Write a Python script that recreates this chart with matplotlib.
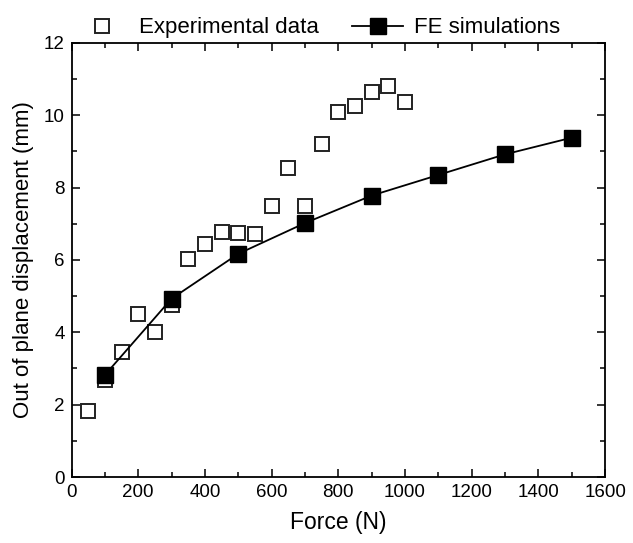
import matplotlib
matplotlib.use("Agg")
import matplotlib.pyplot as plt

plt.rcParams['font.family'] = ['Liberation Sans', 'DejaVu Sans']

# experimental measurements
expForce = [50, 100, 150, 200, 250, 300, 350, 400, 450, 500,
            550, 600, 650, 700, 750, 800, 850, 900, 950, 1000]
expDisp = [1.82, 2.68, 3.45, 4.5, 4.0, 4.75, 6.02, 6.45, 6.78, 6.75,
           6.72, 7.48, 8.55, 7.5, 9.2, 10.1, 10.25, 10.65, 10.82, 10.38]

# FE simulation results
feForce = [100, 300, 500, 700, 900, 1100, 1300, 1500]
feDisp = [2.82, 4.93, 6.17, 7.02, 7.78, 8.35, 8.92, 9.38]

fig = plt.figure(figsize=(6.33, 5.43), dpi=100)
ax = fig.add_axes([0.113, 0.1215, 0.843, 0.7995])

ax.plot(expForce, expDisp, linestyle='none', marker='s', markersize=10,
        markerfacecolor='white', markeredgecolor='#222222', markeredgewidth=1.4,
        label='Experimental data')
ax.plot(feForce, feDisp, color='black', linewidth=1.3, marker='s', markersize=11.5,
        markerfacecolor='black', markeredgecolor='black', label='FE simulations')

ax.set_xlim(0, 1600)
ax.set_ylim(0, 12)
ax.set_xticks(range(0, 1601, 200))
ax.set_xticks(range(100, 1600, 200), minor=True)
ax.set_yticks(range(0, 13, 2))
ax.set_yticks(range(1, 12, 2), minor=True)
ax.tick_params(which='both', direction='in', top=True, right=True, labelsize=13.5, width=1.1)
ax.tick_params(which='major', length=6, pad=5)
ax.tick_params(which='minor', length=3.5)
for s in ax.spines.values():
    s.set_linewidth(1.3)

ax.set_xlabel('Force (N)', fontsize=16.5, labelpad=7)
ax.set_ylabel('Out of plane displacement (mm)', fontsize=16, labelpad=7)

ax.legend(loc='lower center', bbox_to_anchor=(0.463, 0.99), ncol=2, frameon=False,
          fontsize=16, handlelength=2.3, columnspacing=1.5, handletextpad=0.5,
          borderaxespad=0.0)

fig.savefig('out.png', dpi=100)
